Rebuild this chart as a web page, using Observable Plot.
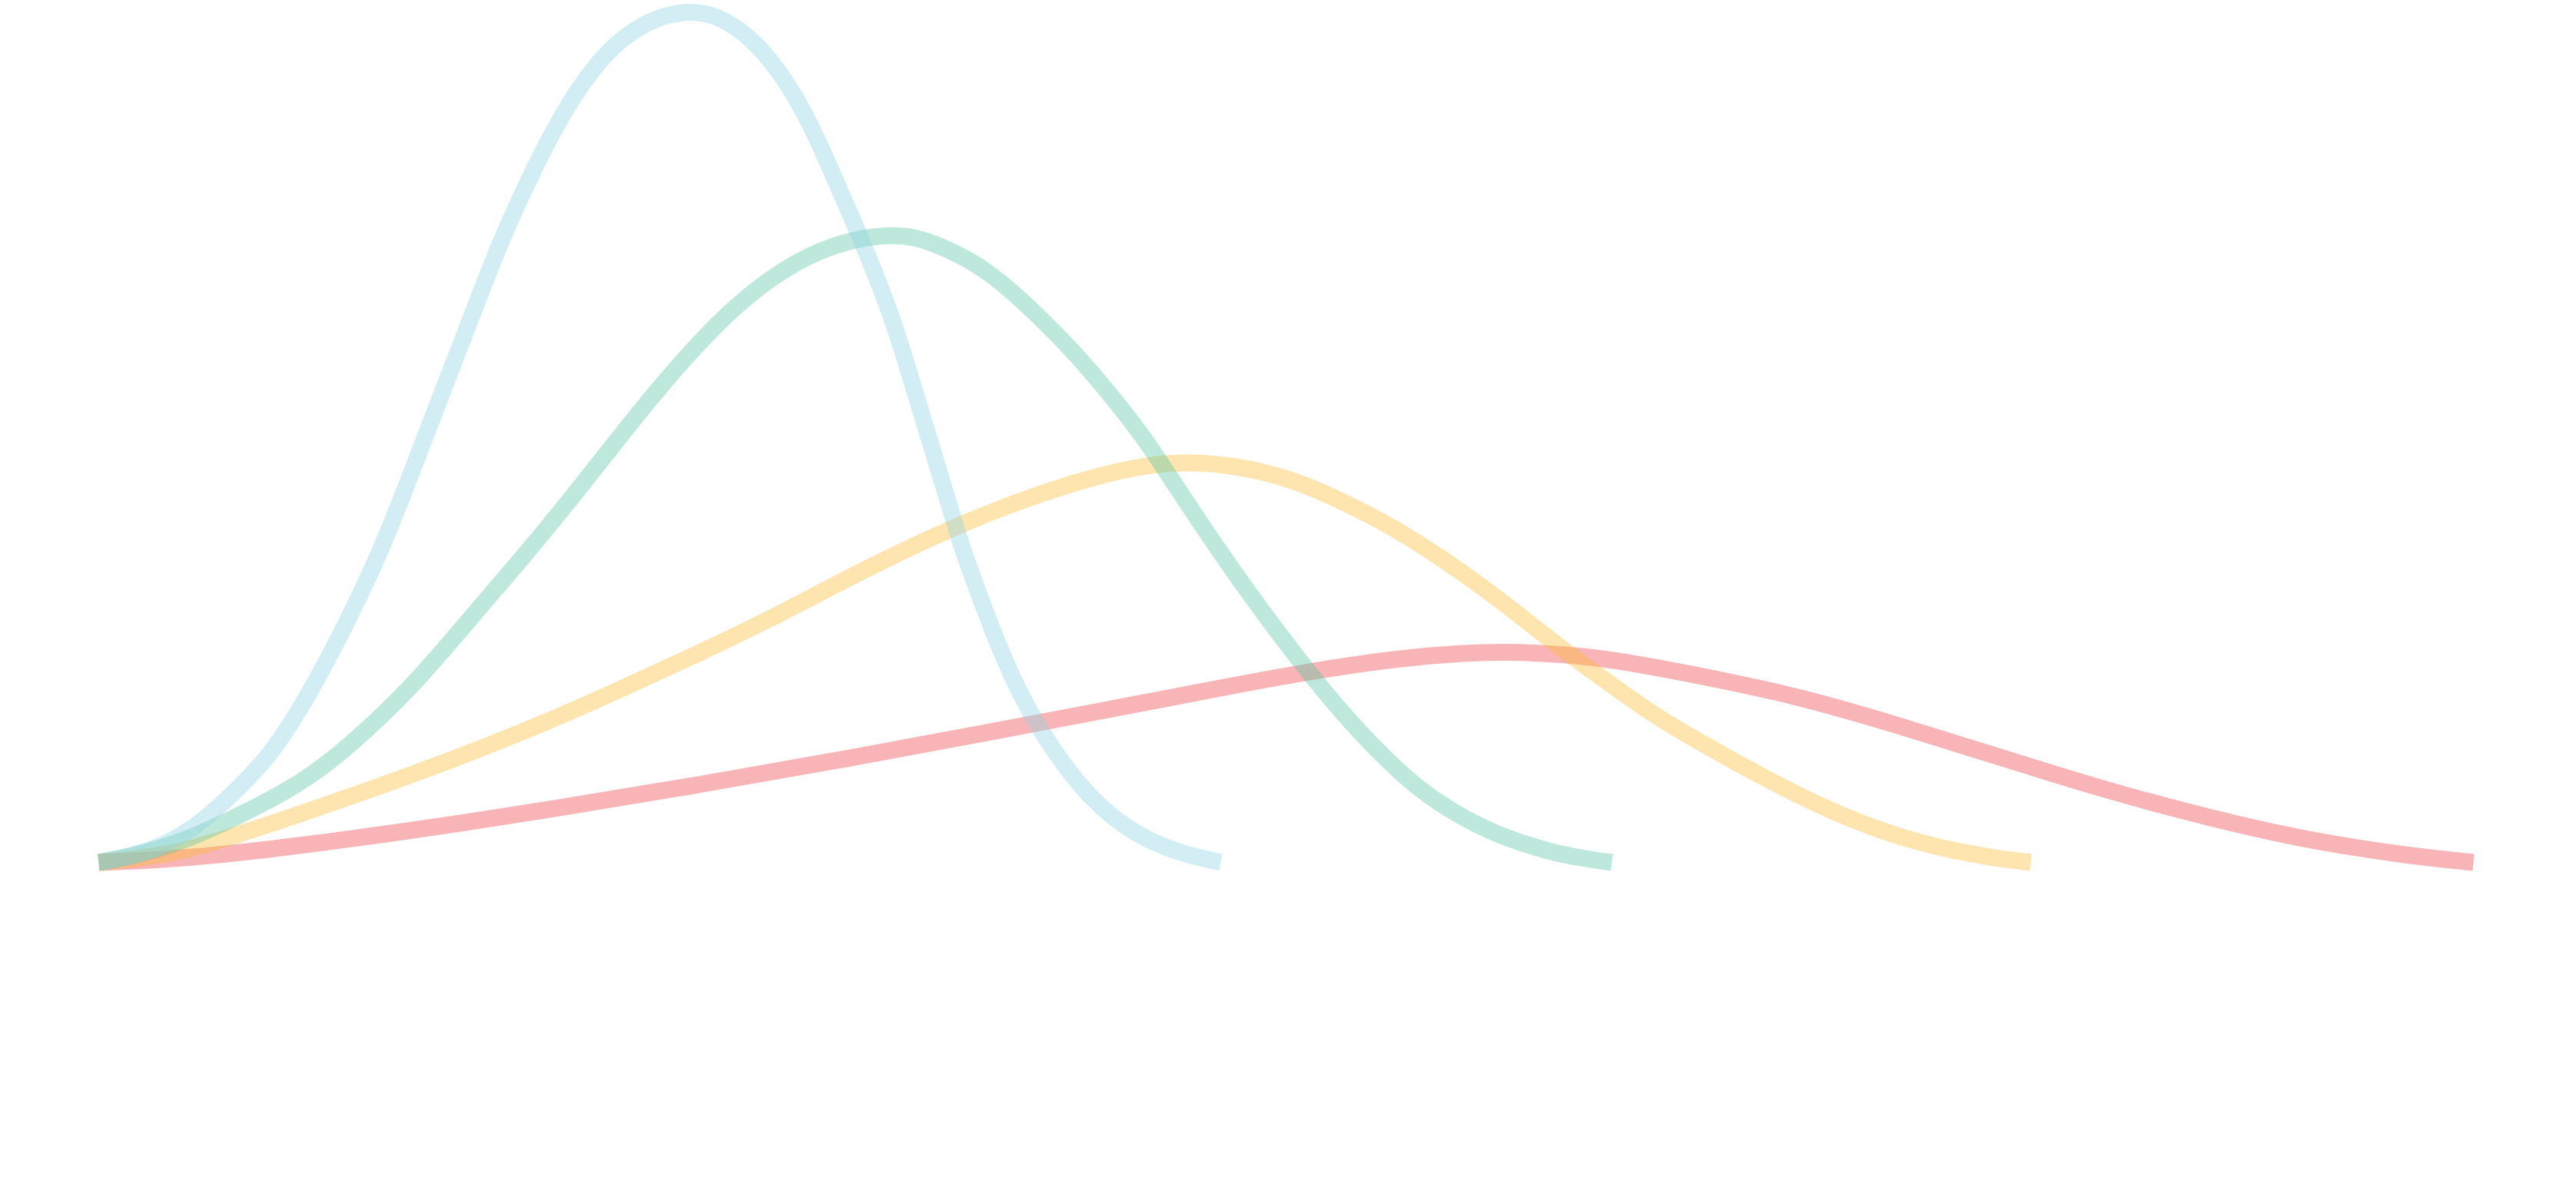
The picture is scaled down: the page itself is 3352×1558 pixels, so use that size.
<!DOCTYPE html>
<html>
<head>
<meta charset="utf-8">
<script src="https://cdn.jsdelivr.net/npm/d3@7"></script>
<script src="https://cdn.jsdelivr.net/npm/@observablehq/plot@0.6"></script>
<style>
  html, body { margin: 0; padding: 0; background: #ffffff; overflow: hidden; }
  #chart svg { display: block; }
</style>
</head>
<body>
<div id="chart"></div>
<script>
// Series values (x: 0–100 across, y: 0–100 up)
const cyanX = [0, 1.36, 2.65, 3.62, 4.55, 6.21, 7.40, 8.59, 9.77, 10.96, 12.15, 13.33, 14.52, 15.71, 16.89, 18.08, 19.27, 20.45, 21.64, 22.83, 23.69, 24.72, 25.63, 26.39, 27.57, 28.76, 29.95, 31.13, 32.07, 32.69, 33.40, 34.27, 34.98, 35.70, 36.41, 37.12, 37.83, 38.77, 39.71, 40.68, 41.84, 43.27, 44.95, 46.34, 47.25];
const cyanY = [0, 0.72, 1.90, 3.43, 5.23, 9.57, 13.27, 18.50, 24.46, 31.10, 38.38, 46.99, 55.60, 64.20, 72.80, 80.08, 86.71, 91.99, 95.97, 98.29, 99.37, 100, 99.73, 98.94, 96.63, 92.66, 87.03, 79.42, 73.47, 69.13, 64.17, 56.23, 49.64, 43.05, 36.37, 31.14, 25.81, 19.86, 15.25, 11.28, 7.31, 3.97, 1.62, 0.54, 0];

const greenX = [0, 1.36, 2.33, 3.85, 6.21, 8.58, 10.49, 13.33, 15.70, 18.09, 20.45, 22.82, 24.72, 26.38, 28.06, 29.94, 31.84, 33.40, 34.37, 35.34, 36.96, 38.41, 39.87, 41.23, 42.46, 43.75, 44.47, 45.53, 46.99, 48.45, 49.74, 51.04, 52.49, 53.95, 55.40, 56.86, 58.80, 61.17, 62.52, 63.72];
const greenY = [0, 0.72, 1.44, 2.80, 5.87, 9.39, 13.45, 20.94, 28.88, 36.55, 44.68, 53.16, 59.39, 64.26, 68.23, 71.48, 73.29, 73.74, 73.47, 72.56, 70.40, 67.24, 63.36, 59.48, 55.42, 50.90, 48.01, 43.50, 37.36, 31.59, 26.71, 22.02, 17.15, 12.82, 9.03, 6.14, 3.25, 1.17, 0.45, 0];

const yellowX = [0, 2.33, 3.95, 5.60, 8.83, 12.10, 15.34, 18.61, 21.84, 25.11, 28.35, 31.62, 33.07, 35.24, 37.41, 39.58, 41.75, 43.92, 45.86, 48.25, 50.42, 52.59, 54.76, 56.93, 59.09, 61.26, 63.43, 65.60, 67.80, 70.19, 72.56, 74.92, 77.31, 79.68, 81.36];
const yellowY = [0, 0.65, 1.64, 3.02, 6.00, 9.20, 12.54, 16.18, 20.15, 24.35, 28.68, 33.51, 35.50, 38.40, 41.00, 43.24, 45.17, 46.62, 47.11, 46.48, 44.86, 42.15, 38.99, 35.02, 30.69, 25.81, 21.39, 17.06, 13.54, 9.84, 6.50, 3.79, 1.81, 0.54, 0];

const redX = [0, 2.33, 4.50, 7.18, 9.87, 12.10, 15.28, 18.61, 25.11, 31.62, 37.41, 41.75, 46.08, 50.42, 54.76, 57.35, 59.61, 63.43, 67.06, 71.39, 75.73, 80.06, 84.40, 88.74, 93.07, 97.41, 100];
const redY = [0, 0.27, 0.72, 1.53, 2.48, 3.34, 4.60, 6.05, 9.03, 12.23, 15.25, 17.55, 19.86, 22.20, 24.01, 24.59, 24.82, 24.10, 22.11, 19.68, 16.16, 12.36, 8.57, 5.32, 2.53, 0.72, 0];

// Drawing order: red underneath, cyan on top
const seriesNames = ["red", "yellow", "green", "cyan"];
const seriesColors = ["#ed4348", "#fcbb34", "#5cc5a7", "#8ed4e3"];

const toRows = (xs, ys) => xs.map((x, i) => ({x, y: ys[i]}));
const rows = {
  red: toRows(redX, redY),
  yellow: toRows(yellowX, yellowY),
  green: toRows(greenX, greenY),
  cyan: toRows(cyanX, cyanY)
};

const chart = Plot.plot({
  width: 3352,
  height: 1558,
  marginLeft: 128,
  marginRight: 134,
  marginTop: 14,
  marginBottom: 436,
  x: {domain: [0, 100], axis: null},
  y: {domain: [0, 100], axis: null},
  marks: seriesNames.map((name, i) =>
    Plot.line(rows[name], {
      x: "x",
      y: "y",
      stroke: seriesColors[i],
      strokeWidth: 22,
      strokeOpacity: 0.4,
      strokeLinecap: "butt",
      strokeLinejoin: "round",
      curve: "basis"
    })
  )
});
document.getElementById("chart").appendChild(chart);
</script>
</body>
</html>
